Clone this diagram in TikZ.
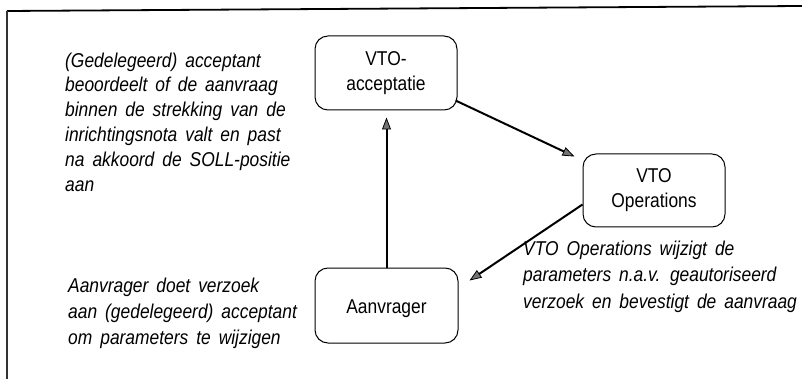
\documentclass[tikz,border=0pt]{standalone}
\usepackage{fontspec}
\setmainfont{Liberation Sans}[FakeStretch=0.87,WordSpace=1.65]
\usetikzlibrary{arrows.meta,calc}

\begin{document}
\begin{tikzpicture}[x=1pt,y=-1pt,
  box/.style={draw, line width=1pt, rounded corners=13pt,
    minimum width=142pt, minimum height=74pt, inner sep=0pt,
    align=center, font=\fontsize{20}{25}\selectfont,
    execute at begin node={\rule{0pt}{21pt}}},
  note/.style={anchor=north west, inner sep=0pt, align=left,
    font=\itshape\fontsize{20}{24.8}\selectfont},
  flow/.style={line width=2pt,
    -{Triangle[length=12pt,width=9pt,fill=black!55,line width=0.8pt]}}
]
\useasboundingbox (0,0) rectangle (802,379);

% page frame (top and left edges)
\draw[line width=1.8pt] (7,11) -- (802,6);
\draw[line width=1.3pt, black!80] (7,11) -- (7,379);

% process boxes
\node[box] (acc) at (386,73) {VTO-\\acceptatie};
\node[box, minimum height=73pt] (ops) at (654,190.5) {VTO\\Operations};
\node[box, minimum width=143pt, minimum height=75pt] (aanv) at (386.5,305.5) {Aanvrager};

% flow between the boxes
\draw[flow, shorten >=7pt] (aanv.north) -- (aanv.north |- acc.south);
\draw[flow] ($(acc.south east)+(-2,-10)$) -- ($(ops.north west)+(-8,3)$);
\draw[flow] ($(ops.west)+(0,14)$) -- ($(aanv.north east)+(11,13)$);

% explanatory notes
\node[note] (n1) at (65,52.5) {(Gedelegeerd) acceptant\\beoordeelt of de aanvraag\\binnen de strekking van de\\inrichtingsnota valt en past\\na akkoord de SOLL-positie\\aan};
\node[note, font=\itshape\fontsize{20}{26}\selectfont] (n2) at (68,277.5) {Aanvrager doet verzoek\\aan (gedelegeerd) acceptant\\om parameters te wijzigen};
\node[note, font=\itshape\fontsize{20}{26.6}\selectfont] (n3) at (523,240.5) {VTO Operations wijzigt de\\parameters n.a.v. geautoriseerd\\verzoek en bevestigt de aanvraag};
\end{tikzpicture}
\end{document}
